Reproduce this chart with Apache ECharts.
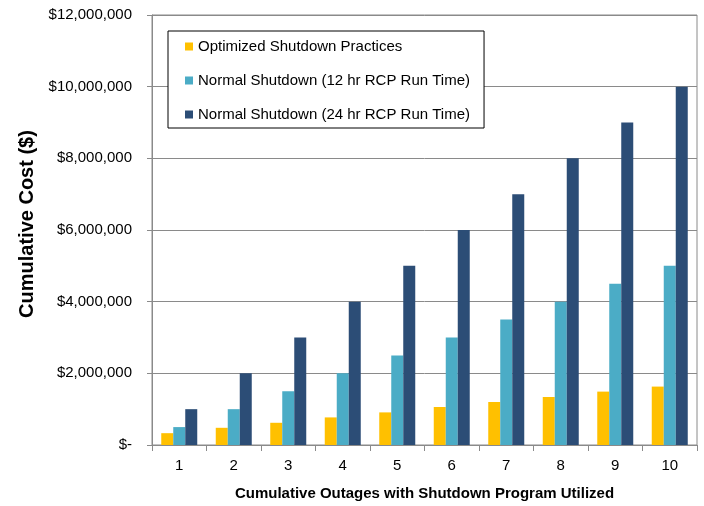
<!DOCTYPE html>
<html>
<head>
<meta charset="utf-8">
<script src="https://cdn.jsdelivr.net/npm/echarts@6/dist/echarts.min.js"></script>
<style>html,body{margin:0;padding:0;background:#fff}#c{width:704px;height:506px}</style>
</head>
<body>
<div id="c"></div>
<script>
var categories = ['1','2','3','4','5','6','7','8','9','10'];
var optimized = [330000, 480000, 620000, 770000, 910000, 1060000, 1200000, 1340000, 1490000, 1630000];
var normal12 = [500000, 1000000, 1500000, 2000000, 2500000, 3000000, 3500000, 4000000, 4500000, 5000000];
var normal24 = [1000000, 2000000, 3000000, 4000000, 5000000, 6000000, 7000000, 8000000, 9000000, 10000000];
var seriesNames = ['Optimized Shutdown Practices', 'Normal Shutdown (12 hr RCP Run Time)', 'Normal Shutdown (24 hr RCP Run Time)'];
var colors = ['#FFC000', '#4BACC6', '#2C4D76'];
var yMin = 0, yMax = 12000000, yStep = 2000000;

var FONT = 'Liberation Sans, Arial, sans-serif';
var chart = echarts.init(document.getElementById('c'), null, {renderer: 'canvas'});
function fmt(v) {
  if (v === 0) return '$-';
  return '$' + String(v).replace(/\B(?=(\d{3})+(?!\d))/g, ',');
}
var option = {
  animation: false,
  backgroundColor: '#fff',
  textStyle: {fontFamily: FONT},
  grid: {left: 152, right: 7, top: 15, bottom: 59, show: true, borderColor: '#8a8a8a', borderWidth: 1, backgroundColor: 'transparent'},
  legend: {
    orient: 'vertical', left: 168, top: 31,
    backgroundColor: '#fff', borderColor: '#000', borderWidth: 1,
    padding: [8, 14, 6, 17],
    itemWidth: 8, itemHeight: 8, itemGap: 19,
    icon: 'rect',
    textStyle: {fontFamily: FONT, fontSize: 15, color: '#000', lineHeight: 15},
    data: seriesNames
  },
  xAxis: {
    type: 'category', data: categories,
    name: 'Cumulative Outages with Shutdown Program Utilized',
    nameLocation: 'middle', nameGap: 41,
    nameTextStyle: {fontFamily: FONT, fontSize: 15, fontWeight: 'bold', color: '#000'},
    axisLine: {lineStyle: {color: '#8a8a8a', width: 1}},
    axisTick: {show: true, length: 6, alignWithLabel: false, lineStyle: {color: '#8a8a8a'}},
    axisLabel: {fontFamily: FONT, fontSize: 15, color: '#000', margin: 13}
  },
  yAxis: {
    type: 'value', min: yMin, max: yMax, interval: yStep,
    name: 'Cumulative Cost ($)',
    nameLocation: 'middle', nameGap: 115, nameRotate: 90,
    nameTextStyle: {fontFamily: FONT, fontSize: 20, fontWeight: 'bold', color: '#000', padding: [0, 0, 0, 12]},
    axisLine: {show: true, lineStyle: {color: '#8a8a8a', width: 1}},
    axisTick: {show: true, length: 5, lineStyle: {color: '#8a8a8a'}},
    splitLine: {show: true, lineStyle: {color: '#8a8a8a', width: 1}},
    axisLabel: {fontFamily: FONT, fontSize: 15, color: '#000', margin: 20, formatter: fmt}
  },
  series: [
    {name: seriesNames[0], type: 'bar', data: optimized, barWidth: 12, barGap: '0%', itemStyle: {color: colors[0]}},
    {name: seriesNames[1], type: 'bar', data: normal12, barWidth: 12, barGap: '0%', itemStyle: {color: colors[1]}},
    {name: seriesNames[2], type: 'bar', data: normal24, barWidth: 12, barGap: '0%', itemStyle: {color: colors[2]}}
  ]
};
chart.setOption(option);
</script>
</body>
</html>
